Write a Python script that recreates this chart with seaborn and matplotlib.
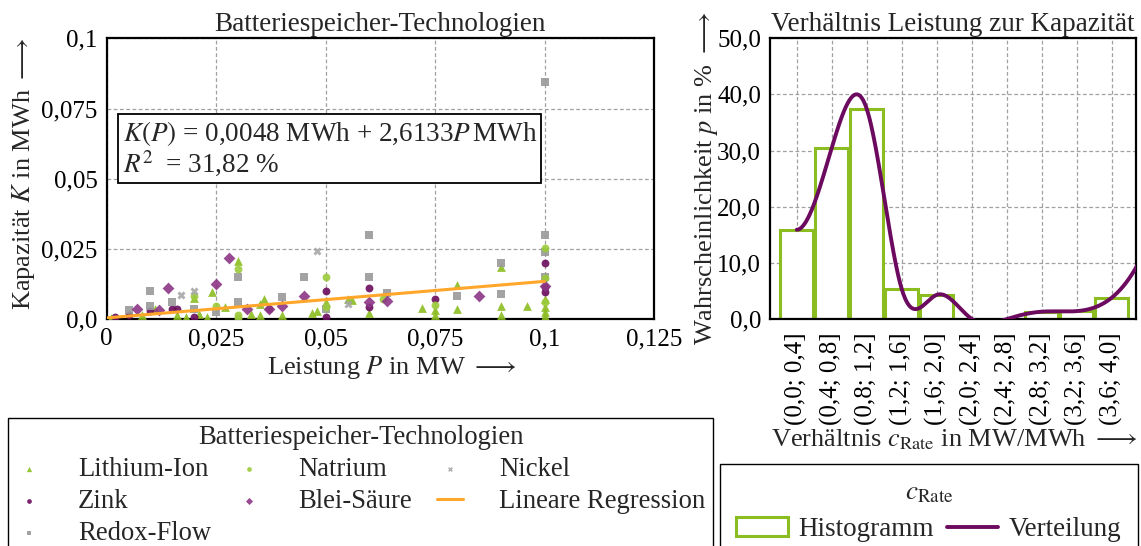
import numpy as np
import pandas as pd
import matplotlib
matplotlib.use("Agg")
import matplotlib.pyplot as plt
import seaborn as sns

# ---------------------------------------------------------------
# Battery storage systems: rated power P (MW) and capacity K (MWh)
# ---------------------------------------------------------------
li_p = [0.001, 0.008, 0.011, 0.016, 0.018, 0.020, 0.021, 0.023, 0.024, 0.027,
        0.030, 0.033, 0.035, 0.035, 0.036, 0.040, 0.047, 0.048, 0.050, 0.055,
        0.056, 0.060, 0.072, 0.075, 0.075, 0.080, 0.080, 0.090, 0.090, 0.090,
        0.096, 0.100, 0.100, 0.100, 0.100]
li_k = [0.0005, 0.0015, 0.0038, 0.0015, 0.0008, 0.0075, 0.0018, 0.0008, 0.0096, 0.0042,
        0.0209, 0.0018, 0.0014, 0.0056, 0.0072, 0.0014, 0.0023, 0.0029, 0.0062, 0.0074,
        0.0068, 0.0023, 0.0039, 0.0014, 0.0032, 0.0122, 0.0038, 0.0185, 0.0047, 0.0014,
        0.0048, 0.0074, 0.0044, 0.0026, 0.0011]

na_p = [0.020, 0.025, 0.030, 0.030, 0.030, 0.050, 0.050, 0.063, 0.075, 0.100, 0.100, 0.100]
na_k = [0.0083, 0.0047, 0.0180, 0.0017, 0.0005, 0.0152, 0.0045, 0.0074, 0.0050, 0.0254, 0.0146, 0.0060]

zn_p = [0.002, 0.005, 0.010, 0.015, 0.016, 0.020, 0.037, 0.050, 0.050, 0.060,
        0.060, 0.075, 0.100, 0.100, 0.100]
zn_k = [0.0008, 0.0014, 0.0030, 0.0035, 0.0038, 0.0008, 0.0038, 0.0102, 0.0008, 0.0110,
        0.0042, 0.0074, 0.0202, 0.0116, 0.0098]

pb_p = [0.007, 0.012, 0.014, 0.025, 0.028, 0.032, 0.037, 0.040, 0.045, 0.060, 0.064, 0.085, 0.100]
pb_k = [0.0035, 0.0032, 0.0110, 0.0126, 0.0218, 0.0035, 0.0038, 0.0047, 0.0083, 0.0062, 0.0065, 0.0084, 0.0120]

rf_p = [0.005, 0.010, 0.010, 0.015, 0.020, 0.025, 0.030, 0.030, 0.040, 0.045,
        0.050, 0.060, 0.060, 0.064, 0.080, 0.090, 0.090, 0.100, 0.100, 0.100, 0.100]
rf_k = [0.0032, 0.0049, 0.0100, 0.0061, 0.0038, 0.0026, 0.0150, 0.0061, 0.0080, 0.0150,
        0.0038, 0.0301, 0.0150, 0.0092, 0.0084, 0.0200, 0.0089, 0.0843, 0.0301, 0.0238, 0.0152]

ni_p = [0.017, 0.020, 0.048, 0.055]
ni_k = [0.0085, 0.0100, 0.0242, 0.0054]

# linear regression K(P) = a + b * P, drawn over the measured power range
reg_intercept = 0.0005
reg_slope = 0.13
reg_p = [0.0, 0.1]

eq_text = "$K(P)$ = 0,0048 MWh + 2,6133$P\\,$MWh\n$R^2\\;$ = 31,82 %"

x_ticks = [0.0, 0.025, 0.05, 0.075, 0.1, 0.125]
x_ticklabels = ["0", "0,025", "0,05", "0,075", "0,1", "0,125"]
y_ticks = [0.0, 0.025, 0.05, 0.075, 0.1]
y_ticklabels = ["0,0", "0,025", "0,05", "0,075", "0,1"]

# ---------------------------------------------------------------
# c-rate histogram (share in %)
# ---------------------------------------------------------------
bin_labels = ["(0,0; 0,4]", "(0,4; 0,8]", "(0,8; 1,2]", "(1,2; 1,6]", "(1,6; 2,0]",
              "(2,0; 2,4]", "(2,4; 2,8]", "(2,8; 3,2]", "(3,2; 3,6]", "(3,6; 4,0]"]
hist_share = [15.9, 30.5, 37.4, 5.3, 4.3, 0.0, 0.0, 1.3, 1.4, 3.8]
p_ticks = [0, 10, 20, 30, 40, 50]
p_ticklabels = ["0,0", "10,0", "20,0", "30,0", "40,0", "50,0"]

# ---------------------------------------------------------------
# styling
# ---------------------------------------------------------------
sns.set_theme(style="white")
plt.rcParams["font.family"] = ["Liberation Serif", "DejaVu Serif"]
plt.rcParams["mathtext.fontset"] = "stix"
FS_TITLE = 19.5
FS_LABEL = 19
FS_TICK = 18
FS_LEG = 19.2

GREEN_LI = "#8cbd20"
GREEN_NA = "#9bcb3a"
PURPLE_ZN = "#6b0d5d"
PURPLE_PB = "#8c3586"
GRAY_RF = "#999999"
GRAY_NI = "#a6a6a6"
ORANGE = "#ffa62b"
HIST_GREEN = "#8cbd20"
CURVE = "#6c0a5f"
GRID = dict(color="#a0a0a0", linestyle=(0, (3, 2)), linewidth=0.9)


def smooth_curve(x, y, xs):
    """Cubic spline through (x, y): zero slope at the start, not-a-knot at the end."""
    x = np.asarray(x, float)
    y = np.asarray(y, float)
    m = len(x) - 1
    A = np.zeros((4 * m, 4 * m))
    b = np.zeros(4 * m)
    r = 0
    for i in range(m):
        h = x[i + 1] - x[i]
        A[r, 4 * i] = 1.0
        b[r] = y[i]
        r += 1
        A[r, 4 * i:4 * i + 4] = [1.0, h, h * h, h ** 3]
        b[r] = y[i + 1]
        r += 1
    for i in range(m - 1):
        h = x[i + 1] - x[i]
        A[r, 4 * i:4 * i + 4] = [0.0, 1.0, 2 * h, 3 * h * h]
        A[r, 4 * (i + 1) + 1] = -1.0
        r += 1
        A[r, 4 * i:4 * i + 4] = [0.0, 0.0, 2.0, 6 * h]
        A[r, 4 * (i + 1) + 2] = -2.0
        r += 1
    A[r, 1] = 1.0
    r += 1
    A[r, 4 * (m - 2) + 3] = 1.0
    A[r, 4 * (m - 1) + 3] = -1.0
    coef = np.linalg.solve(A, b).reshape(m, 4)
    idx = np.clip(np.searchsorted(x, xs, side="right") - 1, 0, m - 1)
    t = xs - x[idx]
    c = coef[idx]
    return c[:, 0] + c[:, 1] * t + c[:, 2] * t ** 2 + c[:, 3] * t ** 3


fig = plt.figure(figsize=(11.41, 5.46), dpi=100)
ax1 = fig.add_axes([0.0935, 0.4152, 0.4797, 0.5147])
ax2 = fig.add_axes([0.6749, 0.4158, 0.3208, 0.5141])

# ---------------- left: scatter of storage systems ----------------
series = [
    ("Lithium-Ion", li_p, li_k, "^", GREEN_LI, 40),
    ("Zink", zn_p, zn_k, "o", PURPLE_ZN, 32),
    ("Redox-Flow", rf_p, rf_k, "s", GRAY_RF, 32),
    ("Natrium", na_p, na_k, "o", GREEN_NA, 32),
    ("Blei-Säure", pb_p, pb_k, "D", PURPLE_PB, 36),
    ("Nickel", ni_p, ni_k, "X", GRAY_NI, 34),
]
for name, p, k, mk, col, size in series:
    df = pd.DataFrame({"P": p, "K": k})
    sns.scatterplot(data=df, x="P", y="K", ax=ax1, marker=mk, color=col, s=size,
                    linewidth=0, alpha=0.9, label=name, zorder=3)

reg_df = pd.DataFrame({"P": reg_p})
reg_df["K"] = reg_intercept + reg_slope * reg_df["P"]
sns.lineplot(data=reg_df, x="P", y="K", ax=ax1, color=ORANGE, linewidth=2.2,
             label="Lineare Regression", zorder=4)

handles, labels = ax1.get_legend_handles_labels()
ax1.get_legend().remove()

ax1.set_xlim(0, 0.125)
ax1.set_ylim(0, 0.1)
ax1.set_xticks(x_ticks)
ax1.set_xticklabels(x_ticklabels)
ax1.set_yticks(y_ticks)
ax1.set_yticklabels(y_ticklabels)
ax1.set_axisbelow(True)
ax1.grid(True, **GRID)
ax1.tick_params(axis="both", direction="inout", length=9, width=1.4,
                labelsize=FS_TICK, colors="black", pad=2)
for sp in ax1.spines.values():
    sp.set_color("black")
    sp.set_linewidth(1.6)
ax1.set_title("Batteriespeicher-Technologien", fontsize=FS_TITLE, pad=5)
ax1.set_xlabel("Leistung $P$ in MW $\\longrightarrow$", fontsize=FS_LABEL)
ax1.set_ylabel("Kapazität $K$ in MWh $\\longrightarrow$", fontsize=FS_LABEL)
ax1.xaxis.set_label_coords(0.52, -0.125)
ax1.yaxis.set_label_coords(-0.128, 0.52)

ax1.text(0.029, 0.714, eq_text, transform=ax1.transAxes, fontsize=FS_TITLE,
         ha="left", va="top", linespacing=1.05, zorder=5,
         bbox=dict(boxstyle="square,pad=0.15", facecolor="white",
                   edgecolor="black", linewidth=1.3))

# ---------------- right: c-rate histogram + smoothed distribution ----------------
hist_df = pd.DataFrame({"bin": bin_labels, "share": hist_share})
sns.barplot(data=hist_df, x="bin", y="share", ax=ax2, order=bin_labels,
            color="white", saturation=1, edgecolor=HIST_GREEN, linewidth=2.2,
            width=0.95, errorbar=None, zorder=2)

pos = np.arange(len(hist_share), dtype=float)
xs = np.linspace(0.0, 9.8, 600)
curve_df = pd.DataFrame({"x": xs, "p": smooth_curve(pos, hist_share, xs)})
sns.lineplot(data=curve_df, x="x", y="p", ax=ax2, color=CURVE, linewidth=2.8,
             sort=False, estimator=None, zorder=3)
curve_line = ax2.get_lines()[-1]

ax2.set_xlim(-0.763, 9.694)
ax2.set_ylim(0, 50)
ax2.set_xticks(pos)
ax2.set_xticklabels(bin_labels, rotation=90)
ax2.set_yticks(p_ticks)
ax2.set_yticklabels(p_ticklabels)
ax2.set_axisbelow(True)
ax2.grid(True, **GRID)
ax2.tick_params(axis="y", direction="inout", length=9, width=1.4,
                labelsize=FS_TICK, colors="black", pad=2)
ax2.tick_params(axis="x", direction="out", length=5, width=1.4,
                labelsize=FS_TICK, colors="black", pad=5)
for sp in ax2.spines.values():
    sp.set_color("black")
    sp.set_linewidth(1.6)
ax2.set_title("Verhältnis Leistung zur Kapazität", fontsize=FS_TITLE, pad=5)
ax2.set_xlabel("Verhältnis $c_{\\mathrm{Rate}}$ in MW/MWh $\\longrightarrow$", fontsize=FS_LABEL)
ax2.set_ylabel("Wahrscheinlichkeit $p$ in % $\\longrightarrow$", fontsize=FS_LABEL)
ax2.xaxis.set_label_coords(0.503, -0.385)
ax2.yaxis.set_label_coords(-0.138, 0.5)

# ---------------- legends ----------------
leg1 = fig.legend(handles, labels, loc="upper left",
                  bbox_to_anchor=(8 / 1141, 1 - 418 / 546, 705 / 1141, 0),
                  mode="expand", ncol=3, borderaxespad=0, fontsize=FS_LEG,
                  title="Batteriespeicher-Technologien", title_fontsize=FS_LEG,
                  handlelength=1.0, handletextpad=1.35, markerscale=0.6,
                  labelspacing=0.26, borderpad=0.28, columnspacing=0.5,
                  frameon=True, fancybox=False, framealpha=1)
leg1.get_frame().set_edgecolor("black")
leg1.get_frame().set_linewidth(1.0)

bars = ax2.containers[0]
leg2 = fig.legend([bars, curve_line], ["Histogramm", "Verteilung"], loc="upper left",
                  bbox_to_anchor=(720 / 1141, 1 - 464 / 546, 418 / 1141, 0),
                  mode="expand", ncol=2, borderaxespad=0, fontsize=19.5,
                  title="$c_{\\mathrm{Rate}}$", title_fontsize=19.5,
                  handlelength=1.9, handletextpad=0.4, labelspacing=0.45,
                  borderpad=0.6, columnspacing=0.5,
                  frameon=True, fancybox=False, framealpha=1)
leg2.get_frame().set_edgecolor("black")
leg2.get_frame().set_linewidth(1.0)

fig.savefig("out.png", dpi=100)
